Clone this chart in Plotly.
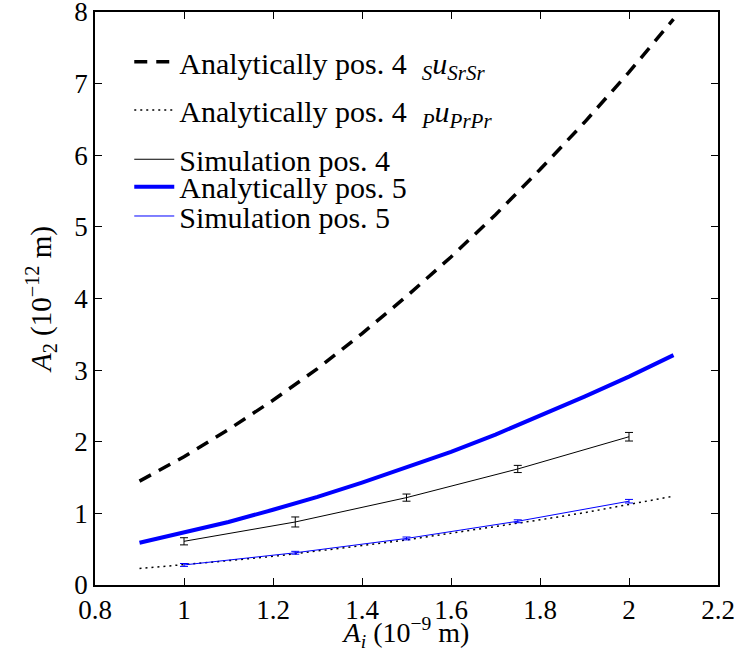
import plotly.graph_objects as go

# Analytical curves
x_an = [0.9, 1.0, 1.1, 1.2, 1.3, 1.4, 1.5, 1.6, 1.7, 1.8, 1.9, 2.0, 2.1]
y_s4 = [1.45, 1.79, 2.17, 2.58, 3.02, 3.51, 4.03, 4.58, 5.17, 5.80, 6.46, 7.16, 7.90]
y_p4 = [0.23, 0.28, 0.34, 0.40, 0.47, 0.55, 0.63, 0.72, 0.81, 0.91, 1.01, 1.12, 1.24]
y_a5 = [0.59, 0.73, 0.88, 1.05, 1.23, 1.43, 1.64, 1.86, 2.10, 2.36, 2.63, 2.91, 3.21]

# Simulations
x_sim = [1.0, 1.25, 1.5, 1.75, 2.0]
y_sim4 = [0.61, 0.88, 1.22, 1.62, 2.07]
e_sim4 = [0.05, 0.07, 0.05, 0.05, 0.06]
y_sim5 = [0.28, 0.45, 0.65, 0.89, 1.17]
e_sim5 = [0.02, 0.02, 0.02, 0.02, 0.025]

FONT = "Liberation Serif"

fig = go.Figure()
fig.add_trace(go.Scatter(x=x_an, y=y_s4, mode="lines",
                         line=dict(color="black", width=3.5, dash="13px,9px"),
                         name="Analytically pos. 4  <i><sub>S</sub>u<sub>SrSr</sub></i>",
                         legend="legend"))
fig.add_trace(go.Scatter(x=x_an, y=y_p4, mode="lines",
                         line=dict(color="black", width=1.5, dash="2px,4px"),
                         name="Analytically pos. 4  <i><sub>P</sub>u<sub>PrPr</sub></i>",
                         legend="legend2"))
fig.add_trace(go.Scatter(x=x_sim, y=y_sim4, mode="lines",
                         line=dict(color="black", width=1),
                         error_y=dict(type="data", array=e_sim4, color="black", thickness=1, width=4),
                         name="Simulation pos. 4", legend="legend3"))
fig.add_trace(go.Scatter(x=x_an, y=y_a5, mode="lines",
                         line=dict(color="#0000ff", width=4),
                         name="Analytically pos. 5", legend="legend4"))
fig.add_trace(go.Scatter(x=x_sim, y=y_sim5, mode="lines",
                         line=dict(color="#0000ff", width=1),
                         error_y=dict(type="data", array=e_sim5, color="#0000ff", thickness=1, width=4),
                         name="Simulation pos. 5", legend="legend5"))

axis_common = dict(showline=True, linecolor="black", linewidth=1.5, mirror="ticks",
                   ticks="inside", ticklen=7, tickcolor="black", showgrid=False,
                   zeroline=False, ticklabeloverflow="allow",
                   tickfont=dict(family=FONT, size=27, color="black"))


def leg(ycen):
    return dict(x=0.055, y=ycen, xanchor="left", yanchor="middle",
                bgcolor="rgba(0,0,0,0)", font=dict(family=FONT, size=30, color="black"),
                itemwidth=40)


fig.update_layout(
    width=736, height=652,
    margin=dict(l=95, r=18, t=12, b=67),
    plot_bgcolor="white", paper_bgcolor="white",
    font=dict(family=FONT, color="black"),
    xaxis=dict(range=[0.8, 2.2], tickvals=[0.8, 1, 1.2, 1.4, 1.6, 1.8, 2, 2.2],
               ticktext=["0.8", "1", "1.2", "1.4", "1.6", "1.8", "2", "2.2"],
               automargin=False,
               title=dict(text="<i>A<sub>i</sub></i> (10<sup>−9</sup> m)",
                          font=dict(family=FONT, size=28), standoff=0),
               **axis_common),
    yaxis=dict(range=[0, 8], tickvals=[0, 1, 2, 3, 4, 5, 6, 7, 8],
               automargin="left",
               title=dict(text="<i>A</i><sub>2</sub> (10<sup>−12</sup> m)",
                          font=dict(family=FONT, size=29), standoff=14),
               **axis_common),
    legend=leg(0.913),
    legend2=leg(0.829),
    legend3=leg(0.743),
    legend4=leg(0.695),
    legend5=leg(0.644),
    showlegend=True,
)

fig.write_html("out.html")
